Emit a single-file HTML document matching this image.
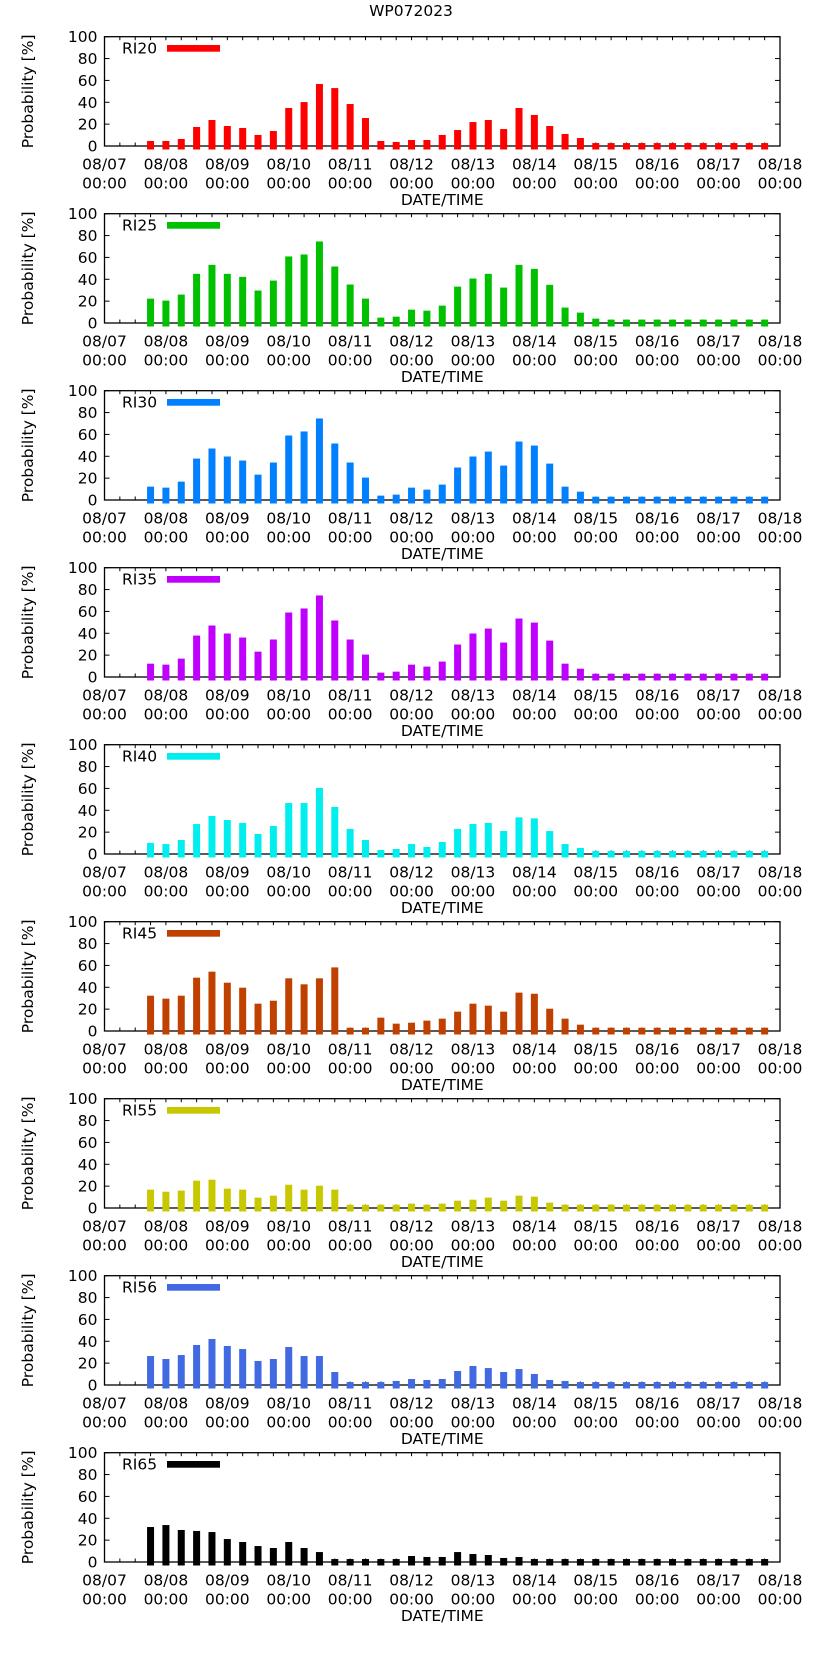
<!DOCTYPE html>
<html><head><meta charset="utf-8"><style>
html,body{margin:0;padding:0;background:#fff;}
svg{display:block;font-family:"DejaVu Sans","Liberation Sans",sans-serif;}
</style></head>
<body>
<svg id="chart" width="822" height="1653" viewBox="0 0 822 1653" xmlns="http://www.w3.org/2000/svg">
<text x="411" y="16" text-anchor="middle" font-size="15.5" fill="#000">WP072023</text>
</svg>
<script>
const dayLabels = ["08/07","08/08","08/09","08/10","08/11","08/12","08/13","08/14","08/15","08/16","08/17","08/18"];
const yTicks = [0,20,40,60,80,100];
const firstStep = 3; // first bar at 08/07 18:00 (6-hour steps)
const seriesNames = ["RI20","RI25","RI30","RI35","RI40","RI45","RI55","RI56","RI65"];
const seriesColors = ["#ff0000","#00c000","#0080ff","#c000ff","#00eeee","#c04000","#c8c800","#4169e1","#000000"];
const ri20 = [4.6,4.6,6.4,17.4,23.8,18.3,16.5,10.1,13.7,34.8,40.2,56.7,53,38.4,25.6,4.6,3.7,5.5,5.5,10.1,14.6,21.9,23.8,15.5,34.8,28.4,18.3,11,7.3,2.7,2.7,2.7,2.7,2.7,2.7,2.7,2.7,2.7,2.7,2.7,2.7];
const ri25 = [22.3,20.5,26,45,53.2,45,42.2,29.7,38.8,60.9,62.7,74.6,51.7,35.2,22.3,4.9,5.8,12.2,11.3,15.9,33.3,40.7,45,32.4,53.2,49.5,34.9,14.1,9.5,4,3.1,3.1,3.1,3.1,3.1,3.1,3.1,3.1,3.1,3.1,3.1];
const ri30 = [12.2,11.3,16.8,37.9,47.1,39.8,36.1,23.2,34.3,59,62.7,74.6,51.7,34.3,20.5,4,4.9,11.3,9.5,14.1,29.7,39.8,44.3,31.5,53.5,49.8,33.3,12.2,7.6,3,3,3,3,3,3,3,3,3,3,3,3];
const ri35 = [12.2,11.3,16.8,37.9,47.1,39.8,36.1,23.2,34.3,59,62.7,74.6,51.7,34.3,20.5,4,4.9,11.3,9.5,14.1,29.7,39.8,44.3,31.5,53.5,49.8,33.3,12.2,7.6,3,3,3,3,3,3,3,3,3,3,3,3];
const ri40 = [10.1,9.1,12.8,27.4,34.8,31.1,28.4,18.3,25.6,46.6,46.6,60.4,43,22.9,12.8,3.7,4.6,9.1,6.4,11,22.9,27.4,28.4,21,33.5,32.6,21,9.1,5.5,2.7,2.7,2.7,2.7,2.7,2.7,2.7,2.7,2.7,2.7,2.7,2.7];
const ri45 = [32.3,29.6,32.3,48.8,54.3,44.2,39.6,25,27.7,48.2,42.7,48.2,58.2,3,3,12.2,6.7,7.6,9.5,11.3,17.7,25,23.2,17.7,35.1,34.1,20.4,11.3,5.8,3,3,3,3,3,3,3,3,3,3,3,3];
const ri55 = [16.8,14.9,15.9,25,25.9,17.7,16.8,9.5,11.3,21.3,16.8,20.4,16.8,3,3,3,3,4,3,4,6.7,7.6,9.5,6.7,11.3,10.4,4.9,3,3,3,3,3,3,3,3,3,3,3,3,3,3];
const ri56 = [26.5,23.8,27.4,36.6,42.1,35.7,32.9,22,23.8,34.8,26.5,26.5,11.9,2.7,2.7,2.7,3.7,5.5,4.6,5.5,12.8,17.4,15.5,11.9,14.6,10.1,4.6,3.7,2.7,2.7,2.7,2.7,2.7,2.7,2.7,2.7,2.7,2.7,2.7,2.7,2.7];
const ri65 = [32,33.8,29.3,28.4,27.4,21,18.3,14.6,12.8,18.3,12.8,9.1,2.7,2.7,2.7,2.7,2.7,5.5,4.6,4.6,9.1,7.3,6.4,3.7,4.6,2.7,2.7,2.7,2.7,2.7,2.7,2.7,2.7,2.7,2.7,2.7,2.7,2.7,2.7,2.7,2.7];
const seriesValues = [ri20,ri25,ri30,ri35,ri40,ri45,ri55,ri56,ri65];

const NS="http://www.w3.org/2000/svg";
const svg=document.getElementById('chart');
const L=104.5,R=780,H=109.3,TOP0=36.7,GAP=177;
const stepsTotal=(dayLabels.length-1)*4;
function mk(tag,attrs,parent){const e=document.createElementNS(NS,tag);for(const k in attrs)e.setAttribute(k,attrs[k]);(parent||svg).appendChild(e);return e;}
function xs(step){return L+step*(R-L)/stepsTotal;}

seriesNames.forEach((name,p)=>{
  const top=TOP0+p*GAP, base=top+H;
  const ys=v=>base-v*H/100;
  const g=mk('g',{});
  
  
  const fr=mk('rect',{x:L,y:top,width:R-L,height:H,fill:'none',stroke:'#000','stroke-width':1.3},g);
  
  
  yTicks.forEach(t=>{
    const y=ys(t);
    mk('line',{x1:L,x2:L+5,y1:y,y2:y,stroke:'#000','stroke-width':1},g);
    mk('line',{x1:R,x2:R-5,y1:y,y2:y,stroke:'#000','stroke-width':1},g);
    const tl=mk('text',{x:L-7,y:y+5.5,'text-anchor':'end','font-size':15.5,fill:'#000'},g);
    tl.textContent=t;
    
    
  });
  for(let s=0;s<=stepsTotal;s++){
    const x=xs(s),len=3.5;
    mk('line',{x1:x,x2:x,y1:base,y2:base-len,stroke:'#000','stroke-width':1},g);
    mk('line',{x1:x,x2:x,y1:top,y2:top+len,stroke:'#000','stroke-width':1},g);
  }
  seriesValues[p].forEach((v,i)=>{
    const cx=xs(firstStep+i);
    const b=mk('rect',{x:cx-3.5,y:ys(v),width:7,height:base+3.5-ys(v),fill:seriesColors[p]},g);
    
    
  });
  dayLabels.forEach((d,i)=>{
    const x=xs(i*4);
    const t1=mk('text',{x:x,y:base+23.5,'text-anchor':'middle','font-size':15.5,fill:'#000'},g);
    t1.textContent=d;
    
    
    const t2=mk('text',{x:x,y:base+42.5,'text-anchor':'middle','font-size':15.5,fill:'#000'},g);
    t2.textContent='00:00';
    
    
  });
  const xt=mk('text',{x:(L+R)/2,y:base+59,'text-anchor':'middle','font-size':15.5,fill:'#000'},g);
  xt.textContent='DATE/TIME';
  
  
  const yt=mk('text',{x:0,y:0,'text-anchor':'middle','font-size':15.5,fill:'#000',transform:`translate(33,${top+H/2}) rotate(-90)`},g);
  yt.textContent='Probability [%]';
  
  
  const lt=mk('text',{x:122,y:top+17,'font-size':15.5,fill:'#000'},g);
  lt.textContent=name;
  
  
  const ls=mk('rect',{x:167,y:top+8.3,width:53,height:6.7,fill:seriesColors[p]},g);
  
  
});
</script>
</body></html>
